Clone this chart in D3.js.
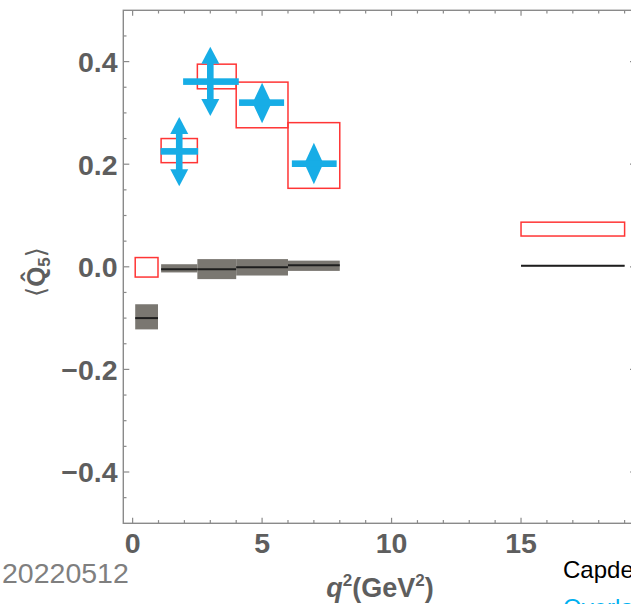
<!DOCTYPE html>
<html>
<head>
<meta charset="utf-8">
<script src="https://cdn.jsdelivr.net/npm/d3@7"></script>
<style>
  html, body { margin: 0; padding: 0; background: #fff; overflow: hidden; }
  svg { display: block; }
</style>
</head>
<body>
<svg id="chart" width="631" height="604"></svg>
<script>
// q^2 bins (GeV^2)
const binLo = [0.1, 1.1, 2.5, 4.0, 6.0, 15.0];
const binHi = [0.98, 2.5, 4.0, 6.0, 8.0, 19.0];

// SM prediction: central value and band (grey boxes)
const smCentral = [-0.100, -0.005, -0.005, -0.001, 0.003, 0.002];
const smLow     = [-0.122, -0.011, -0.024, -0.017, -0.008, 0.001];
const smHigh    = [-0.073, 0.005, 0.015, 0.015, 0.012, 0.003];

// Fit prediction band (red open boxes)
const fitLow  = [-0.020, 0.203, 0.347, 0.271, 0.153, 0.060];
const fitHigh = [0.018, 0.250, 0.395, 0.360, 0.281, 0.087];

// Measurements (blue markers)
const expQ2    = [1.8, 3.0, 5.0, 7.0];
const expQ2Lo  = [1.08, 1.95, 4.11, 6.15];
const expQ2Hi  = [2.53, 4.10, 5.85, 7.88];
const expVal   = [0.225, 0.361, 0.320, 0.201];
const expLo    = [0.157, 0.294, 0.280, 0.161];
const expHi    = [0.292, 0.429, 0.359, 0.242];
const expShape = ["arrow", "arrow", "diamond", "diamond"];

// Axis ticks
const xMajor = [0, 5, 10, 15];
const xMajorLabels = ["0", "5", "10", "15"];
const yMajor = [-0.4, -0.2, 0.0, 0.2, 0.4];
const yMajorLabels = ["\u22120.4", "\u22120.2", "0.0", "0.2", "0.4"];

const svg = d3.select("#chart");
const frameL = 123.3, frameR = 636, frameT = 10.3, frameB = 523.3;

const x = d3.scaleLinear().domain([-0.36, 19.44]).range([frameL, frameR]);
const y = d3.scaleLinear().domain([-0.5, 0.5]).range([frameB, frameT]);

const frameColor = "#8a8a8a";
const textColor = "#5e5e5e";
const blue = "#17ade6";
const red = "#ff3535";

// Frame
svg.append("rect")
  .attr("x", frameL).attr("y", frameT)
  .attr("width", frameR - frameL).attr("height", frameB - frameT)
  .attr("fill", "none").attr("stroke", frameColor).attr("stroke-width", 1.4);

// Ticks on all four sides (pointing inward)
const xMinor = d3.range(0, 20, 1).filter(v => !xMajor.includes(v));
const yMinor = d3.range(-0.45, 0.46, 0.05).map(v => +v.toFixed(2)).filter(v => !yMajor.some(m => Math.abs(m - v) < 1e-6));

function drawTicks(g, vals, len) {
  vals.forEach(v => {
    g.append("line").attr("x1", x(v)).attr("x2", x(v)).attr("y1", frameB).attr("y2", frameB - len);
    g.append("line").attr("x1", x(v)).attr("x2", x(v)).attr("y1", frameT).attr("y2", frameT + len);
  });
}
function drawYTicks(g, vals, len) {
  vals.forEach(v => {
    g.append("line").attr("y1", y(v)).attr("y2", y(v)).attr("x1", frameL).attr("x2", frameL + len);
    g.append("line").attr("y1", y(v)).attr("y2", y(v)).attr("x1", frameR).attr("x2", frameR - len);
  });
}
const tickG = svg.append("g").attr("stroke", frameColor).attr("stroke-width", 1.2);
drawTicks(tickG, xMajor, 5.5);
drawTicks(tickG, xMinor, 3.2);
drawYTicks(tickG, yMajor, 6);
drawYTicks(tickG, yMinor, 3.2);

// Tick labels
const labelFont = "'Liberation Sans', Arial, sans-serif";
svg.append("g").selectAll("text").data(xMajor).join("text")
  .attr("x", d => x(d)).attr("y", 553)
  .attr("text-anchor", "middle")
  .attr("font-family", labelFont).attr("font-weight", "bold").attr("font-size", 28.5)
  .attr("fill", textColor)
  .text((d, i) => xMajorLabels[i]);

svg.append("g").selectAll("text").data(yMajor).join("text")
  .attr("x", 117.5).attr("y", d => y(d) + 10.3)
  .attr("text-anchor", "end")
  .attr("font-family", labelFont).attr("font-weight", "bold").attr("font-size", 28.5)
  .attr("fill", textColor)
  .text((d, i) => yMajorLabels[i]);

// Axis titles
const xt = svg.append("text")
  .attr("x", 380).attr("y", 597)
  .attr("text-anchor", "middle")
  .attr("font-family", labelFont).attr("font-weight", "bold").attr("font-size", 27)
  .attr("fill", textColor);
xt.append("tspan").attr("font-style", "italic").text("q");
xt.append("tspan").attr("font-size", 17).attr("dy", -11).text("2");
xt.append("tspan").attr("dy", 11).text("(GeV");
xt.append("tspan").attr("font-size", 17).attr("dy", -11).text("2");
xt.append("tspan").attr("dy", 11).text(")");

const yt = svg.append("text")
  .attr("transform", "translate(45,272) rotate(-90)")
  .attr("text-anchor", "middle")
  .attr("font-family", labelFont).attr("font-weight", "bold").attr("font-size", 26)
  .attr("fill", textColor);
yt.append("tspan").attr("font-family", "'DejaVu Sans', sans-serif").attr("font-weight", "normal").text("\u27E8");
yt.append("tspan").text("Q\u0302");
yt.append("tspan").attr("font-size", 17).attr("dy", 5).text("5");
yt.append("tspan").attr("dy", -5).attr("font-family", "'DejaVu Sans', sans-serif").attr("font-weight", "normal").text("\u27E9");

// SM bands (grey boxes with central line)
const smIdx = d3.range(binLo.length);
svg.append("g").selectAll("rect").data(smIdx).join("rect")
  .attr("x", i => x(binLo[i])).attr("width", i => x(binHi[i]) - x(binLo[i]))
  .attr("y", i => y(smHigh[i])).attr("height", i => y(smLow[i]) - y(smHigh[i]))
  .attr("fill", "#7a7771");
svg.append("g").selectAll("line").data(smIdx).join("line")
  .attr("x1", i => x(binLo[i])).attr("x2", i => x(binHi[i]))
  .attr("y1", i => y(smCentral[i])).attr("y2", i => y(smCentral[i]))
  .attr("stroke", "#1e1e1e").attr("stroke-width", 2);

// Fit bands (red open boxes)
svg.append("g").selectAll("rect").data(smIdx).join("rect")
  .attr("x", i => x(binLo[i])).attr("width", i => x(binHi[i]) - x(binLo[i]))
  .attr("y", i => y(fitHigh[i])).attr("height", i => y(fitLow[i]) - y(fitHigh[i]))
  .attr("fill", "none").attr("stroke", red).attr("stroke-width", 1.5);

// Measurements
const mG = svg.append("g");
expQ2.forEach((q, i) => {
  const cx = x(q);
  const yTop = y(expHi[i]), yBot = y(expLo[i]);
  if (expShape[i] === "arrow") {
    const hw = 9, hh = 17, sw = 3.3;
    mG.append("rect").attr("x", cx - sw).attr("width", 2 * sw)
      .attr("y", yTop + hh - 1).attr("height", (yBot - hh + 1) - (yTop + hh - 1))
      .attr("fill", blue);
    mG.append("path")
      .attr("d", `M${cx},${yTop} L${cx + hw},${yTop + hh} L${cx - hw},${yTop + hh} Z`)
      .attr("fill", blue);
    mG.append("path")
      .attr("d", `M${cx},${yBot} L${cx + hw},${yBot - hh} L${cx - hw},${yBot - hh} Z`)
      .attr("fill", blue);
  } else {
    const hw = 9.5;
    const ym = (yTop + yBot) / 2;
    mG.append("path")
      .attr("d", `M${cx},${yTop} L${cx + hw},${ym} L${cx},${yBot} L${cx - hw},${ym} Z`)
      .attr("fill", blue);
  }
  mG.append("rect")
    .attr("x", x(expQ2Lo[i])).attr("width", x(expQ2Hi[i]) - x(expQ2Lo[i]))
    .attr("y", y(expVal[i]) - 3.3).attr("height", 6.6)
    .attr("fill", blue);
});

// Slide annotations
svg.append("text").attr("x", 2).attr("y", 582.5)
  .attr("font-family", labelFont).attr("font-size", 28.5)
  .attr("fill", "#7f7f7f").text("20220512");
svg.append("text").attr("x", 563).attr("y", 577.5)
  .attr("font-family", labelFont).attr("font-size", 24)
  .attr("fill", "#000").text("Capdevila et al.");
svg.append("text").attr("x", 563).attr("y", 616)
  .attr("font-family", labelFont).attr("font-size", 24)
  .attr("fill", "#00b0f0").text("Overlay");
</script>
</body>
</html>
